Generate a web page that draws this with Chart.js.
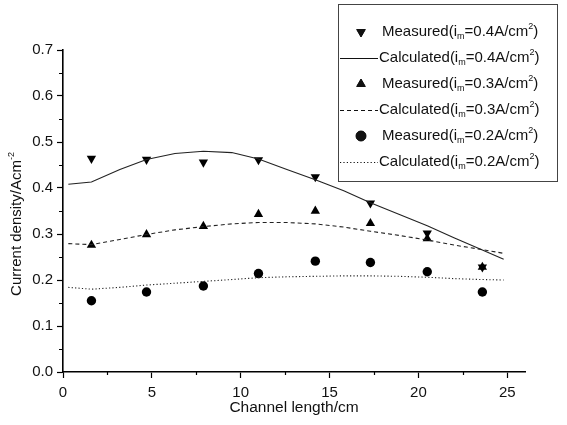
<!DOCTYPE html>
<html>
<head>
<meta charset="utf-8">
<script src="https://cdn.jsdelivr.net/npm/chart.js@4/dist/chart.umd.min.js"></script>
<style>
  html, body { margin: 0; padding: 0; background: #fff; }
  #wrap { width: 567px; height: 425px; position: relative; }
</style>
</head>
<body>
<div id="wrap"><canvas id="chart"></canvas></div>
<script>
var FONT = 'Arial, "Liberation Sans", sans-serif';

// measured points
var measuredX = [1.6, 4.7, 7.9, 11.0, 14.2, 17.3, 20.5, 23.6];
var measured04 = [0.464, 0.462, 0.456, 0.461, 0.424, 0.367, 0.302, 0.228];
var measured03 = [0.276, 0.299, 0.317, 0.343, 0.350, 0.323, 0.290, 0.228];
var measured02 = [0.155, 0.174, 0.187, 0.214, 0.241, 0.238, 0.218, 0.174];

// calculated curves
var calcX = [0.3, 1.6, 3.2, 4.7, 6.3, 7.9, 9.5, 11.0, 12.6, 14.2, 15.8, 17.3, 18.9, 20.5, 22.0, 23.6, 24.8];
var calc04 = [0.408, 0.413, 0.440, 0.462, 0.475, 0.480, 0.477, 0.463, 0.440, 0.418, 0.394, 0.368, 0.343, 0.318, 0.292, 0.265, 0.245];
var calc03 = [0.279, 0.277, 0.288, 0.299, 0.309, 0.316, 0.322, 0.325, 0.325, 0.322, 0.315, 0.306, 0.297, 0.287, 0.276, 0.266, 0.258];
var calc02 = [0.184, 0.180, 0.184, 0.189, 0.193, 0.197, 0.201, 0.205, 0.207, 0.208, 0.209, 0.209, 0.208, 0.206, 0.203, 0.201, 0.200];

var xTicks = [0, 5, 10, 15, 20, 25];
var xMinor = [2.5, 7.5, 12.5, 17.5, 22.5];
var yTicks = [0, 0.1, 0.2, 0.3, 0.4, 0.5, 0.6, 0.7];
var yMinor = [0.05, 0.15, 0.25, 0.35, 0.45, 0.55, 0.65];

var toPoints = (xs, ys) => xs.map((x, i) => ({ x: x, y: ys[i] }));

var legendRows = [
  { kind: 'point', style: 'triangle', rotation: 180, level: '0.4', label: 'Measured' },
  { kind: 'line', dash: [], level: '0.4', label: 'Calculated' },
  { kind: 'point', style: 'triangle', rotation: 0, level: '0.3', label: 'Measured' },
  { kind: 'line', dash: [4, 3], level: '0.3', label: 'Calculated' },
  { kind: 'point', style: 'circle', rotation: 0, level: '0.2', label: 'Measured' },
  { kind: 'line', dash: [1.2, 2.2], level: '0.2', label: 'Calculated' },
];

// draw text made of normal / sub / sup pieces
var drawRich = (ctx, parts, x, y, size) => {
  var small = Math.round(size * 0.62);
  for (const p of parts) {
    var s = p.k ? small : size;
    ctx.font = s + 'px ' + FONT;
    var dy = p.k === 'sub' ? size * 0.32 : p.k === 'sup' ? -size * 0.38 : 0;
    ctx.fillText(p.t, x, y + dy);
    x += ctx.measureText(p.t).width;
  }
  return x;
};
var richWidth = (ctx, parts, size) => {
  var small = Math.round(size * 0.62);
  var w = 0;
  for (const p of parts) {
    ctx.font = (p.k ? small : size) + 'px ' + FONT;
    w += ctx.measureText(p.t).width;
  }
  return w;
};

var extras = {
  id: 'extras',
  afterDraw(chart) {
    var ctx = chart.ctx;
    var xs = chart.scales.x, ys = chart.scales.y;
    ctx.save();

    // minor ticks
    ctx.strokeStyle = '#000';
    ctx.lineWidth = 1.2;
    ctx.beginPath();
    for (const v of xMinor) {
      var px = Math.round(xs.getPixelForValue(v)) + 0.5;
      ctx.moveTo(px, ys.bottom);
      ctx.lineTo(px, ys.bottom + 3);
    }
    for (const v of yMinor) {
      var py = Math.round(ys.getPixelForValue(v)) + 0.5;
      ctx.moveTo(xs.left, py);
      ctx.lineTo(xs.left - 4, py);
    }
    ctx.stroke();

    // axis titles
    ctx.fillStyle = '#111';
    ctx.textBaseline = 'middle';
    var xt = [{ t: 'Channel length/cm' }];
    var w = richWidth(ctx, xt, 15.5);
    drawRich(ctx, xt, (xs.left + xs.right) / 2 - w / 2, 408, 15.5);

    ctx.save();
    ctx.translate(17, 224);
    ctx.rotate(-Math.PI / 2);
    var yt = [{ t: 'Current density/Acm' }, { t: '-2', k: 'sup' }];
    w = richWidth(ctx, yt, 15);
    drawRich(ctx, yt, -w / 2, 0, 15);
    ctx.restore();

    // legend box
    var bx = 338, by = 4, bw = 219, bh = 177;
    ctx.fillStyle = '#fff';
    ctx.fillRect(bx, by, bw, bh);
    ctx.strokeStyle = '#444';
    ctx.lineWidth = 1;
    ctx.strokeRect(bx + 0.5, by + 0.5, bw, bh);

    legendRows.forEach((row, i) => {
      var cy = 32 + i * 26;
      ctx.strokeStyle = '#111';
      ctx.fillStyle = '#111';
      if (row.kind === 'point') {
        Chart.helpers.drawPoint(ctx, { pointStyle: row.style, radius: 5, rotation: row.rotation, borderWidth: 1 }, 361, cy);
        ctx.fill();
      } else {
        ctx.beginPath();
        ctx.lineWidth = 1;
        ctx.setLineDash(row.dash);
        ctx.moveTo(340, cy + 0.5);
        ctx.lineTo(378, cy + 0.5);
        ctx.stroke();
        ctx.setLineDash([]);
      }
      ctx.fillStyle = '#111';
      drawRich(ctx, [
        { t: row.label + '(i' }, { t: 'm', k: 'sub' },
        { t: '=' + row.level + 'A/cm' }, { t: '2', k: 'sup' }, { t: ')' }
      ], row.kind === 'point' ? 382 : 379, cy, 15);
    });

    ctx.restore();
  }
};

var pointSet = (data, style, rotation) => ({
  data: data,
  showLine: false,
  pointStyle: style,
  rotation: rotation,
  pointRadius: style === 'circle' ? 4.7 : 5.4,
  backgroundColor: '#000',
  borderColor: '#000',
  borderWidth: 0,
});
var lineSet = (data, dash) => ({
  data: data,
  showLine: true,
  pointRadius: 0,
  borderColor: '#222',
  borderWidth: 1.1,
  borderDash: dash,
  tension: 0,
});

new Chart(document.getElementById('chart'), {
  type: 'scatter',
  data: {
    datasets: [
      lineSet(toPoints(calcX, calc04), []),
      lineSet(toPoints(calcX, calc03), [4, 3]),
      lineSet(toPoints(calcX, calc02), [1.2, 2.2]),
      pointSet(toPoints(measuredX, measured04), 'triangle', 180),
      pointSet(toPoints(measuredX, measured03), 'triangle', 0),
      pointSet(toPoints(measuredX, measured02), 'circle', 0),
    ],
  },
  options: {
    responsive: true,
    maintainAspectRatio: false,
    animation: false,
    layout: { padding: { top: 50, right: 42, left: 0, bottom: 0 } },
    plugins: { legend: { display: false }, tooltip: { enabled: false } },
    scales: {
      x: {
        type: 'linear',
        min: 0,
        max: 26,
        afterBuildTicks: s => { s.ticks = xTicks.map(v => ({ value: v })); },
        afterFit: s => { s.height = 53; },
        grid: { drawOnChartArea: false, tickLength: 6, color: '#000', tickWidth: 1.2 },
        border: { color: '#000', width: 1.6 },
        ticks: { color: '#111', padding: 6, font: { size: 15, family: FONT }, callback: v => String(v) },
      },
      y: {
        type: 'linear',
        min: 0,
        max: 0.7,
        afterBuildTicks: s => { s.ticks = yTicks.map(v => ({ value: v })); },
        afterFit: s => { s.width = 63; },
        grid: { drawOnChartArea: false, tickLength: 6, color: '#000', tickWidth: 1.2 },
        border: { color: '#000', width: 1.6 },
        ticks: { color: '#111', padding: 4, font: { size: 15, family: FONT }, callback: v => v.toFixed(1) },
      },
    },
  },
  plugins: [extras],
});
</script>
</body>
</html>
